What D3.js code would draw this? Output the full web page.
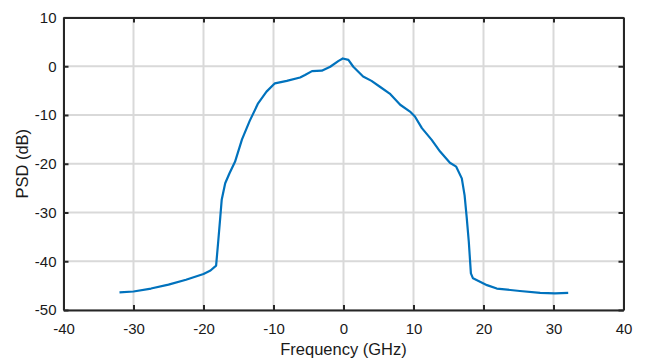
<!DOCTYPE html>
<html>
<head>
<meta charset="utf-8">
<script src="https://cdn.jsdelivr.net/npm/d3@7"></script>
<style>
  html, body { margin: 0; padding: 0; background: #fff; }
  text { font-family: "Liberation Sans", Arial, sans-serif; }
</style>
</head>
<body>
<div id="visualization"></div>
<script>
// data
const freq = [-32.0, -30.0, -27.5, -25.0, -22.5, -20.0, -19.0, -18.2, -17.9, -17.6, -17.4, -16.9, -16.3, -15.5,
  -14.5, -13.4, -12.2, -11.0, -9.8, -8.1, -6.2, -5.5, -4.5, -3.1, -1.9, -0.7, -0.1, 0.7, 1.4, 2.8, 4.0,
  5.2, 6.6, 8.1, 9.5, 10.2, 11.2, 12.6, 13.8, 15.2, 16.1, 16.9, 17.3, 17.6, 17.9, 18.2, 18.5, 20.5, 21.9,
  25.2, 28.1, 30.2, 32.1];
const psd = [-46.4, -46.2, -45.6, -44.8, -43.8, -42.6, -41.9, -40.9, -36.0, -30.9, -27.4, -24.0, -22.0, -19.6,
  -15.0, -11.2, -7.6, -5.2, -3.5, -3.0, -2.3, -1.8, -1.0, -0.9, -0.1, 1.1, 1.6, 1.3, -0.1, -2.1, -3.0,
  -4.2, -5.6, -7.9, -9.3, -10.3, -12.7, -15.1, -17.5, -19.8, -20.6, -23.0, -26.5, -31.0, -36.0, -42.5, -43.5, -44.9, -45.6,
  -46.1, -46.5, -46.6, -46.5];
const xTicks = [-40, -30, -20, -10, 0, 10, 20, 30, 40];
const yTicks = [-50, -40, -30, -20, -10, 0, 10];

const width = 645;
const height = 358;
const margin = { top: 17.5, right: 21.5, bottom: 48, left: 63.5 };

d3.select("#visualization").selectAll("*").remove();

const svg = d3.select("#visualization")
  .append("svg")
  .attr("width", width)
  .attr("height", height);

const x = d3.scaleLinear()
  .domain([-40, 40])
  .range([margin.left, width - margin.right]);

const y = d3.scaleLinear()
  .domain([-50, 10])
  .range([height - margin.bottom, margin.top]);

// grid
svg.append("g")
  .selectAll("line")
  .data(xTicks)
  .join("line")
  .attr("x1", d => x(d)).attr("x2", d => x(d))
  .attr("y1", y(-50)).attr("y2", y(10))
  .attr("stroke", "#d9d9d9")
  .attr("stroke-width", 2);

svg.append("g")
  .selectAll("line")
  .data(yTicks)
  .join("line")
  .attr("y1", d => y(d)).attr("y2", d => y(d))
  .attr("x1", x(-40)).attr("x2", x(40))
  .attr("stroke", "#d9d9d9")
  .attr("stroke-width", 2);

// curve
const line = d3.line()
  .x((d, i) => x(freq[i]))
  .y(d => y(d));

svg.append("path")
  .datum(psd)
  .attr("fill", "none")
  .attr("stroke", "#0072BD")
  .attr("stroke-width", 2.2)
  .attr("stroke-linejoin", "round")
  .attr("d", line);

// axes (ticks inward, boxed)
const fmt = d => String(d);

function styleAxis(g) {
  g.select(".domain").attr("stroke", "#262626").attr("stroke-width", 2);
  g.selectAll(".tick line").attr("stroke", "#262626").attr("stroke-width", 2);
  g.selectAll(".tick text")
    .attr("fill", "#1a1a1a")
    .style("font-size", "15px")
    .style("font-family", "'Liberation Sans', Arial, sans-serif");
}

svg.append("g")
  .attr("transform", `translate(0,${y(-50)})`)
  .call(d3.axisBottom(x).tickValues(xTicks).tickFormat(fmt).tickSizeInner(-5).tickSizeOuter(0).tickPadding(13))
  .call(styleAxis);

svg.append("g")
  .attr("transform", `translate(0,${y(10)})`)
  .call(d3.axisTop(x).tickValues(xTicks).tickSizeInner(-5).tickSizeOuter(0).tickFormat(""))
  .call(styleAxis);

svg.append("g")
  .attr("transform", `translate(${x(-40)},0)`)
  .call(d3.axisLeft(y).tickValues(yTicks).tickFormat(fmt).tickSizeInner(-5).tickSizeOuter(0).tickPadding(7))
  .call(styleAxis);

svg.append("g")
  .attr("transform", `translate(${x(40)},0)`)
  .call(d3.axisRight(y).tickValues(yTicks).tickSizeInner(-5).tickSizeOuter(0).tickFormat(""))
  .call(styleAxis);

// labels
svg.append("text")
  .attr("x", (x(-40) + x(40)) / 2)
  .attr("y", 355)
  .attr("text-anchor", "middle")
  .attr("fill", "#1a1a1a")
  .style("font-size", "16.5px")
  .text("Frequency (GHz)");

svg.append("text")
  .attr("transform", `translate(28,${(y(-50) + y(10)) / 2}) rotate(-90)`)
  .attr("text-anchor", "middle")
  .attr("fill", "#1a1a1a")
  .style("font-size", "16.5px")
  .text("PSD (dB)");
</script>
</body>
</html>
